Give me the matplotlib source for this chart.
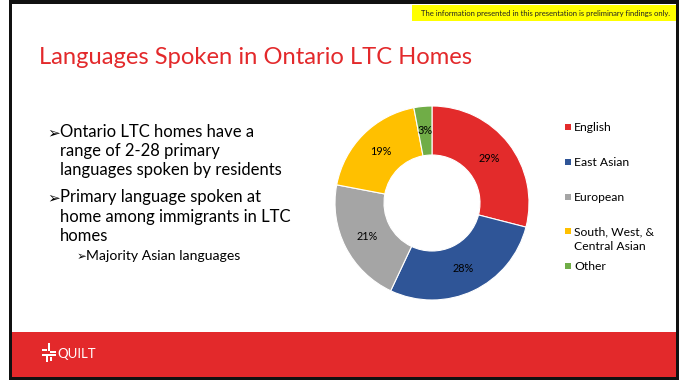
import matplotlib
matplotlib.use("Agg")
import matplotlib.pyplot as plt
from matplotlib.patches import Rectangle

# ---- data ----
categories = ["English", "East Asian", "European", "South, West, &\nCentral Asian", "Other"]
shares = [29, 28, 21, 19, 3]
colors = ["#E32B2B", "#2F5597", "#A5A5A5", "#FFC000", "#70AD47"]

title = "Languages Spoken in Ontario LTC Homes"
notice = "The information presented in this presentation is preliminary findings only."
bullets = [
    ["Ontario LTC homes have a", "range of 2-28 primary", "languages spoken by residents"],
    ["Primary language spoken at", "home among immigrants in LTC", "homes"],
]
sub_bullets = ["Majority Asian languages"]
brand = "QUILT"

RED = "#E3292B"
FONT = ["Lato", "DejaVu Sans"]
plt.rcParams["font.family"] = FONT

W, H = 683, 381
fig = plt.figure(figsize=(W / 100, H / 100), dpi=100)
fig.patch.set_facecolor("white")

# slide canvas in pixel coordinates
bg = fig.add_axes([0, 0, 1, 1])
bg.set_xlim(0, W)
bg.set_ylim(H, 0)
bg.axis("off")

def rect(x0, y0, x1, y1, color, z=0):
    bg.add_patch(Rectangle((x0, y0), x1 - x0, y1 - y0, facecolor=color,
                           edgecolor="none", zorder=z))

# frame, slide body, footer band, notice band
rect(9, 0, 679, 379.5, "#111111", 0)
rect(12, 3.5, 676, 377, "white", 1)
rect(12, 332, 676, 377, RED, 2)
rect(412, 5, 676, 21, "#FFFF00", 2)
bg.text(670, 13.5, notice, fontsize=5.5, color="#222222", ha="right", va="center", zorder=3)

# title
bg.text(39, 64, title, fontsize=17.1, color=RED, ha="left", va="baseline", zorder=3)

# bullet text
arrow = "\u27A2"
line_y = [137, 156, 175, 202, 222, 241]
k = 0
for group in bullets:
    for i, line in enumerate(group):
        if i == 0:
            bg.text(47.5, line_y[k], arrow, fontsize=11, color="black", ha="left",
                    va="baseline", family="DejaVu Sans", zorder=3)
        bg.text(60, line_y[k], line, fontsize=12, color="black", ha="left",
                va="baseline", zorder=3)
        k += 1
for j, line in enumerate(sub_bullets):
    y = 260 + j * 19
    bg.text(76.5, y, arrow, fontsize=8.5, color="black", ha="left", va="baseline",
            family="DejaVu Sans", zorder=3)
    bg.text(86, y, line, fontsize=10.1, color="black", ha="left", va="baseline", zorder=3)

# legend (square aligned with the first line of each label)
legend_rows = [127, 162, 197, 231, 266]
line_gap = 15
for cat, col, y in zip(categories, colors, legend_rows):
    rect(565, y - 2.7, 570.5, y + 2.7, col, 3)
    for n, part in enumerate(cat.split("\n")):
        bg.text(574, y + 4 + n * line_gap, part, fontsize=8.7, color="black",
                ha="left", va="baseline", zorder=3)

# footer logo
for (x0, y0, x1, y1) in [(47.5, 343, 49.5, 351), (42, 349, 47, 351), (50, 350.5, 56, 352.5),
                         (42, 353.5, 56, 355.5), (45.5, 356, 47.5, 362), (50, 356.5, 52, 361)]:
    rect(x0, y0, x1, y1, "white", 3)
bg.text(57, 353.5, brand, fontsize=9.5, color="white", ha="left", va="center", zorder=3)

# donut chart
cx, cy, R = 432, 203, 97
box = 100
ax = fig.add_axes([(cx - box) / W, (H - cy - box) / H, 2 * box / W, 2 * box / H])
wedges, texts, autotexts = ax.pie(
    shares, colors=colors, startangle=90, counterclock=False, radius=R,
    wedgeprops=dict(width=49, edgecolor="white", linewidth=0.8),
    autopct=lambda p: f"{p:.0f}%", pctdistance=0.75,
    textprops=dict(fontsize=7.8, color="black"))
ax.set_xlim(-box, box)
ax.set_ylim(-box, box)
ax.set_aspect("equal")
ax.axis("off")

fig.savefig("out.png", dpi=100, facecolor="white")
